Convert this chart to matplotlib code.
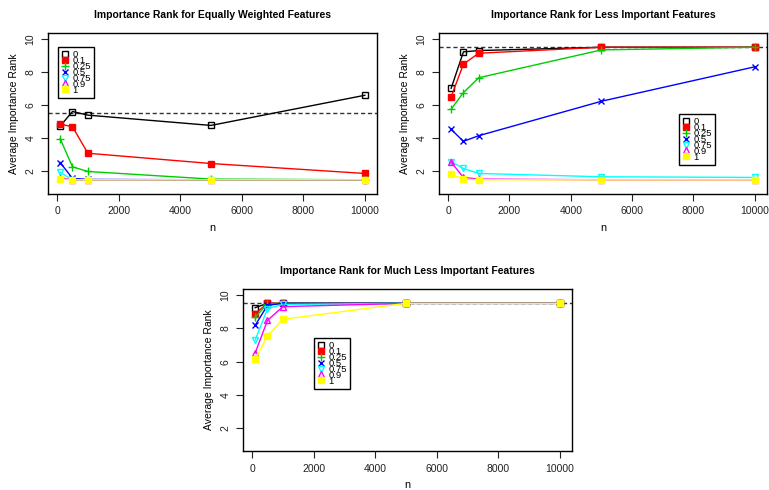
import matplotlib
matplotlib.use("Agg")
import matplotlib.pyplot as plt
from matplotlib.lines import Line2D

n_vals = [100, 500, 1000, 5000, 10000]
series_labels = ["0", "0.1", "0.25", "0.5", "0.75", "0.9", "1"]

equal_vals = [
    [4.74, 5.62, 5.40, 4.78, 6.60],
    [4.86, 4.70, 3.10, 2.48, 1.88],
    [3.98, 2.28, 2.00, 1.54, 1.50],
    [2.54, 1.58, 1.52, 1.50, 1.50],
    [1.94, 1.50, 1.50, 1.50, 1.50],
    [1.62, 1.50, 1.50, 1.50, 1.50],
    [1.54, 1.50, 1.50, 1.50, 1.50],
]
less_vals = [
    [7.02, 9.22, 9.30, 9.50, 9.50],
    [6.50, 8.48, 9.14, 9.50, 9.50],
    [5.76, 6.76, 7.66, 9.34, 9.50],
    [4.54, 3.82, 4.16, 6.24, 8.32],
    [2.60, 2.18, 1.88, 1.68, 1.64],
    [2.56, 1.64, 1.54, 1.50, 1.50],
    [1.84, 1.54, 1.50, 1.50, 1.50],
]
much_less_vals = [
    [9.24, 9.50, 9.50, 9.50, 9.50],
    [8.88, 9.50, 9.50, 9.50, 9.50],
    [8.68, 9.45, 9.50, 9.50, 9.50],
    [8.18, 9.38, 9.50, 9.50, 9.50],
    [7.30, 9.18, 9.44, 9.50, 9.50],
    [6.52, 8.48, 9.30, 9.50, 9.50],
    [6.14, 7.54, 8.54, 9.50, 9.50],
]
ref_lines = [5.5, 9.5, 9.5]
titles = ["Importance Rank for Equally Weighted Features",
          "Importance Rank for Less Important Features",
          "Importance Rank for Much Less Important Features"]
x_ticks = [0, 2000, 4000, 6000, 8000, 10000]
y_ticks = [2, 4, 6, 8, 10]

colors = ["#000000", "#FF0000", "#00CD00", "#0000FF", "#00FFFF", "#FF00FF", "#FFFF00"]
markers = ["s", "s", "+", "x", "v", "^", "s"]
mfc = ["none", "#FF0000", "none", "none", "none", "none", "#FFFF00"]
msz = [4, 4.5, 6, 4.5, 5, 5, 4]

plt.rcParams['font.family'] = ['Liberation Sans', 'DejaVu Sans']

fig = plt.figure(figsize=(7.69, 4.90), dpi=100)
W, H = 769, 490
def rect(l, t, r, b):
    return [l / W, 1 - b / H, (r - l) / W, (b - t) / H]

axes_rects = [rect(48, 33, 377, 194), rect(439, 33, 767, 194), rect(243, 289, 572, 451)]
legend_pos = [(58, 47), (679, 114), (314, 338)]
data_sets = [equal_vals, less_vals, much_less_vals]

for k in range(3):
    ax = fig.add_axes(axes_rects[k])
    vals = data_sets[k]
    ax.axhline(ref_lines[k], color="#333333", lw=1, ls=(0, (3, 2)), zorder=1)
    for i in range(len(series_labels)):
        ax.plot(n_vals, vals[i], color=colors[i], lw=1, marker=markers[i],
                ms=msz[i], mfc=mfc[i], mec=colors[i], mew=1, zorder=2 + i * 0.1)
    ax.set_xlim(100 - 0.04 * 9900, 10000 + 0.04 * 9900)
    ax.set_ylim(1 - 0.36, 10 + 0.36)
    ax.set_xticks(x_ticks)
    ax.set_yticks(y_ticks)
    ax.set_yticklabels([str(t) for t in y_ticks], rotation=90, va="center")
    ax.tick_params(direction="out", length=5, width=0.8, labelsize=7.5, pad=4,
                   colors="#222222")
    for s in ax.spines.values():
        s.set_linewidth(1)
    ax.set_title(titles[k], fontsize=7.5, fontweight="bold", pad=11)
    ax.set_xlabel("n", fontsize=7.8, labelpad=5)
    ax.set_ylabel("Average Importance Rank", fontsize=7.5, labelpad=5)

    handles = [Line2D([], [], color=colors[i], marker=markers[i], ls="none",
                      ms=msz[i], mfc=mfc[i], mec=colors[i], mew=1)
               for i in range(len(series_labels))]
    lx, ly = legend_pos[k]
    leg = ax.legend(handles, series_labels, loc="upper left",
                    bbox_to_anchor=(lx / W, 1 - ly / H), bbox_transform=fig.transFigure,
                    fontsize=6.8, frameon=True, fancybox=False, framealpha=1,
                    edgecolor="black", labelspacing=-0.33, handlelength=0.8,
                    handletextpad=0.4, borderpad=0.35, borderaxespad=0)
    leg.get_frame().set_linewidth(1)

fig.savefig("out.png", dpi=100)
